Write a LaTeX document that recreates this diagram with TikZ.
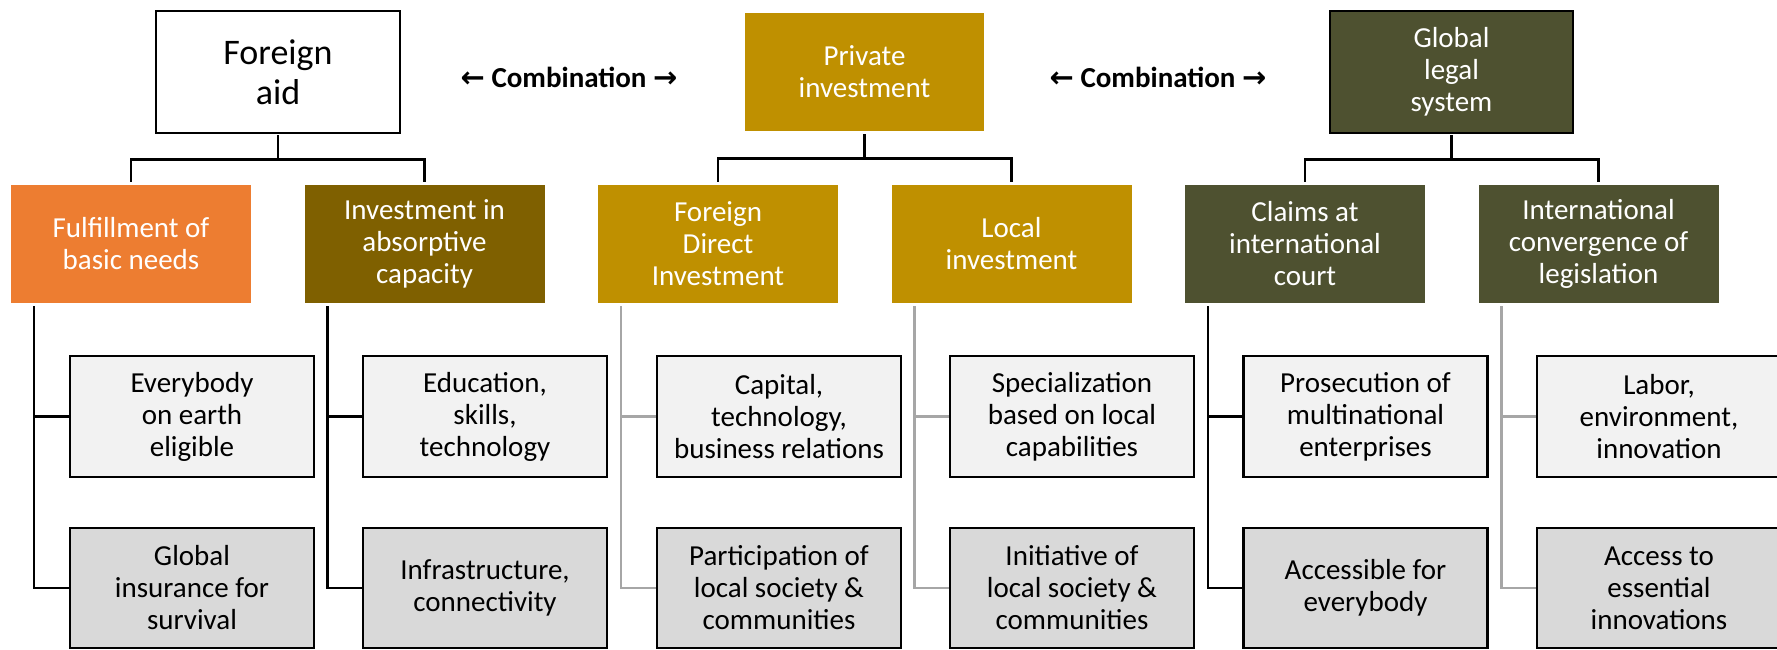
\documentclass[tikz,border=0pt]{standalone}
\usepackage{fontspec}
\setmainfont{Carlito}
\newfontfamily\arrowfont{DejaVu Sans}
\definecolor{gold}{HTML}{BF9000}
\definecolor{dgold}{HTML}{7F6000}
\definecolor{orng}{HTML}{ED7D31}
\definecolor{olive}{HTML}{4E5130}
\definecolor{lgray}{HTML}{F2F2F2}
\definecolor{mgray}{HTML}{D9D9D9}
\definecolor{lineg}{HTML}{A6A6A6}
\begin{document}
\begin{tikzpicture}[x=1pt,y=-1pt,
  basebox/.style={inner sep=0pt, align=center, font=\fontsize{29}{32}\selectfont},
  topbox/.style={basebox, minimum width=244pt, minimum height=122pt},
  midbox/.style={basebox, minimum width=240pt, minimum height=118pt, text=white},
  leafa/.style={basebox, draw=black, line width=2.6pt, fill=lgray, minimum width=244pt, minimum height=121pt},
  leafb/.style={leafa, fill=mgray, minimum height=120pt},
  blk/.style={draw=black, line width=2.6pt},
  gry/.style={draw=lineg, line width=2.6pt},
  combo/.style={inner sep=0pt, font=\fontsize{29}{32}\selectfont\bfseries}]
\clip (0,0) rectangle (1777,649);
\fill[white] (0,0) rectangle (1777,649);
% level 1
\node[topbox, draw=black, line width=2.8pt, fill=white, font=\fontsize{36}{40}\selectfont] (FA) at (278,72) {Foreign\\aid};
\node[topbox, fill=gold, text=white, minimum width=239pt, minimum height=118pt] (PI) at (864.5,72) {Private\\investment};
\node[topbox, draw=black, line width=2.8pt, fill=olive, text=white, minimum width=243pt] (GL) at (1451.5,72) {Global\\legal\\system};
\node[combo] (C1) at (569,77) {{\arrowfont\bfseries ←} Combination {\arrowfont\bfseries →}};
\node[combo] (C2) at (1158,77) {{\arrowfont\bfseries ←} Combination {\arrowfont\bfseries →}};
% level 2
\node[midbox, fill=orng] (F1) at (131,244) {Fulfillment of\\basic needs};
\node[midbox, fill=dgold] (F2) at (424.5,244) {Investment in\\absorptive\\capacity};
\node[midbox, fill=gold] (F3) at (718,244) {Foreign\\Direct\\Investment};
\node[midbox, fill=gold] (F4) at (1011.5,244) {Local\\investment};
\node[midbox, fill=olive] (F5) at (1305,244) {Claims at\\international\\court};
\node[midbox, fill=olive] (F6) at (1598.5,244) {International\\convergence of\\legislation};
% level 3
\node[leafa] (A1) at (192,416.5) {Everybody\\on earth\\eligible};
\node[leafa] (A2) at (485,416.5) {Education,\\skills,\\technology};
\node[leafa] (A3) at (779,416.5) {Capital,\\technology,\\business relations};
\node[leafa] (A4) at (1072,416.5) {Specialization\\based on local\\capabilities};
\node[leafa] (A5) at (1365.5,416.5) {Prosecution of\\multinational\\enterprises};
\node[leafa] (A6) at (1659,416.5) {Labor,\\environment,\\innovation};
\node[leafb] (B1) at (192,588) {Global\\insurance for\\survival};
\node[leafb] (B2) at (485,588) {Infrastructure,\\connectivity};
\node[leafb] (B3) at (779,588) {Participation of\\local society \&\\communities};
\node[leafb] (B4) at (1072,588) {Initiative of\\local society \&\\communities};
\node[leafb] (B5) at (1365.5,588) {Accessible for\\everybody};
\node[leafb] (B6) at (1659,588) {Access to\\essential\\innovations};
% top connectors
\path (FA.south) ++(0,25) coordinate (jFA);
\path (PI.south) ++(0,27) coordinate (jPI);
\path (GL.south) ++(0,25) coordinate (jGL);
\draw[blk] ([yshift=-1pt]FA.south) -- (jFA);
\draw[blk] ([yshift=3pt]F1.north) |- (jFA) -| ([yshift=3pt]F2.north);
\draw[blk] ([yshift=-3pt]PI.south) -- (jPI);
\draw[blk] ([yshift=3pt]F3.north) |- (jPI) -| ([yshift=3pt]F4.north);
\draw[blk] ([yshift=-1pt]GL.south) -- (jGL);
\draw[blk] ([yshift=3pt]F5.north) |- (jGL) -| ([yshift=3pt]F6.north);
% leaf connectors
\foreach \p/\a/\b/\s in {F1/A1/B1/blk, F2/A2/B2/blk, F3/A3/B3/gry, F4/A4/B4/gry, F5/A5/B5/blk, F6/A6/B6/gry}{
  \draw[\s] ([xshift=23pt,yshift=-3pt]\p.south west) |- (\b.west);
  \draw[\s] (\a.west) -| ([xshift=23pt]\a.west -| \p.south west);
}
\end{tikzpicture}
\end{document}
